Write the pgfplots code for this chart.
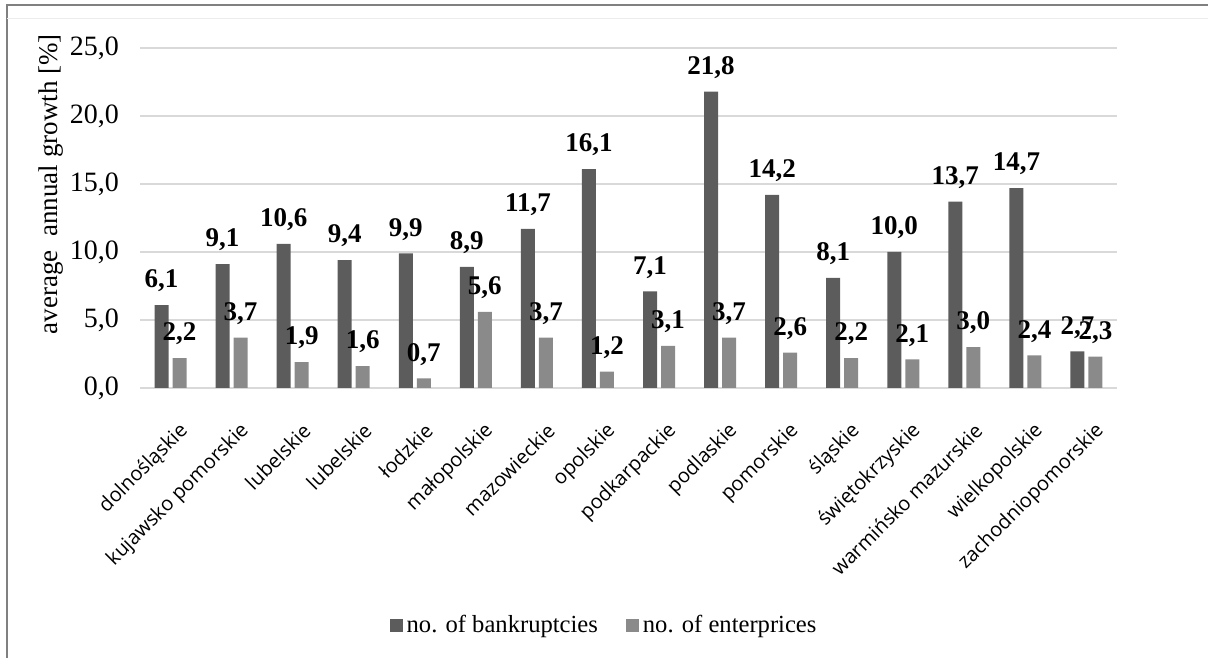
\documentclass[border=0pt]{standalone}
\usepackage{pgfplots}
\pgfplotsset{compat=1.18}
\usepackage{fontspec}
\setmainfont{Liberation Serif}
\newfontfamily\tickfont{Open Sans}
\definecolor{darkbar}{RGB}{92,92,92}
\definecolor{lightbar}{RGB}{138,138,138}
\definecolor{gridc}{RGB}{217,217,217}
\definecolor{framec}{RGB}{128,128,128}
\begin{document}
\begin{tikzpicture}
\useasboundingbox (0,0) rectangle (604pt,329pt);
\begin{axis}[
  at={(70pt,135pt)}, anchor=south west,
  scale only axis, width=488.5pt, height=170pt,
  ybar=2pt, bar width=7pt,
  xmin=-0.5, xmax=15.5, ymin=0, ymax=25,
  xtick={0,...,15},
  xticklabels={dolnośląskie,kujawsko pomorskie,lubelskie,lubelskie,łodzkie,małopolskie,mazowieckie,opolskie,podkarpackie,podlaskie,pomorskie,śląskie,świętokrzyskie,warmińsko mazurskie,wielkopolskie,zachodniopomorskie},
  xticklabel style={rotate=45, anchor=east, font=\tickfont\fontsize{10}{12}\selectfont, xshift=-2.5pt, yshift=-16pt},
  ytick={0,5,...,25},
  yticklabel style={font=\fontsize{14}{16}\selectfont, xshift=-7pt},
  /pgf/number format/.cd, use comma, fixed, fixed zerofill, precision=1, assume math mode=true,
  /pgfplots/.cd,
  ymajorgrids, grid style={gridc, line width=1pt},
  axis line style={draw=none}, tick style={draw=none},
  ylabel={average\ \ annual growth [\%]},
  ylabel style={font=\fontsize{13.5}{15}\selectfont, at={(axis description cs:-0.091,0.52)}, anchor=center, xshift=13.5pt},
  nodes near coords,
  every node near coord/.append style={font=\bfseries\fontsize{13.5}{15}\selectfont, yshift=3pt},
  legend columns=2,
  legend style={draw=none, at={(0.476,-0.697)}, anchor=center, font=\fontsize{12.3}{14}\selectfont,
    /tikz/every even column/.append style={column sep=12pt}},
  legend image code/.code={\fill[#1] (0pt,-3.5pt) rectangle (6.5pt,3pt);},
]
\addplot[fill=darkbar, draw=none] coordinates {
(0,6.1) (1,9.1) (2,10.6) (3,9.4) (4,9.9) (5,8.9) (6,11.7) (7,16.1)
(8,7.1) (9,21.8) (10,14.2) (11,8.1) (12,10.0) (13,13.7) (14,14.7) (15,2.7)};
\addplot[fill=lightbar, draw=none] coordinates {
(0,2.2) (1,3.7) (2,1.9) (3,1.6) (4,0.7) (5,5.6) (6,3.7) (7,1.2)
(8,3.1) (9,3.7) (10,2.6) (11,2.2) (12,2.1) (13,3.0) (14,2.4) (15,2.3)};
\legend{no. of bankruptcies, no. of enterprices}
\end{axis}
\draw[framec, line width=0.8pt] (3.5pt,0pt) -- (3.5pt,326.5pt) -- (604pt,326.5pt);
\draw[gridc!50, line width=0.5pt] (3.5pt,319.5pt) -- (604pt,319.5pt);
\end{tikzpicture}
\end{document}
